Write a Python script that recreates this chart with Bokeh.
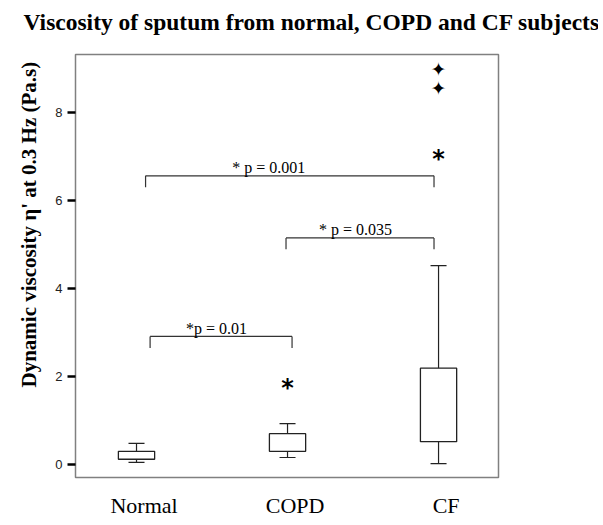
from bokeh.plotting import figure
from bokeh.models import FixedTicker, Title, Range1d, ColumnDataSource, Label
from bokeh.core.properties import value
from bokeh.embed import file_html
from bokeh.resources import INLINE

# ---- data ----
groups = ["Normal", "COPD", "CF"]
whisker_low = [0.05, 0.16, 0.02]
q1 = [0.12, 0.30, 0.52]
medians = [0.15, 0.43, 0.76]
q3 = [0.30, 0.70, 2.19]
whisker_high = [0.48, 0.93, 4.52]

extreme_groups = ["COPD", "CF"]
extreme_values = [1.80, 7.00]
far_groups = ["CF", "CF"]
far_values = [8.98, 8.55]

comp_labels = ["*p = 0.01", "* p = 0.035", "* p = 0.001"]
comp_from = ["Normal", "COPD", "Normal"]
comp_to = ["COPD", "CF", "CF"]
comp_heights = [2.91, 5.15, 6.56]

y_ticks = [0, 2, 4, 6, 8]

TITLE = "Viscosity of sputum from normal, COPD and CF subjects"
Y_LABEL = "Dynamic viscosity \u03b7' at 0.3 Hz (Pa.s)"

SERIF = "Liberation Serif"
SANS = "Liberation Sans"

pos = {g: i + 1 for i, g in enumerate(groups)}
xs = [pos[g] for g in groups]

FW, FH = 423, 423
p = figure(frame_width=FW, frame_height=FH, output_backend="svg",
           toolbar_location=None, x_range=Range1d(0.596, 3.397),
           y_range=Range1d(-0.295, 9.318), min_border_left=75,
           min_border_top=54, min_border_right=100, min_border_bottom=10,
           title=None)
p.grid.visible = False
p.outline_line_color = "#808080"
p.outline_line_width = 1.5
p.background_fill_color = "white"
p.border_fill_color = "white"

# title: a label placed in the panel above the frame
p.add_layout(Label(x=-52, y=33, x_units="screen", y_units="screen", text=TITLE,
                   text_font=SERIF, text_font_size="23.5px", text_font_style="bold",
                   text_color="black", text_baseline="alphabetic", text_align="left"),
             "above")

# y axis
ya = p.yaxis[0]
ya.ticker = FixedTicker(ticks=y_ticks)
ya.minor_tick_line_color = None
ya.major_tick_in = 0
ya.major_tick_out = 8
ya.major_tick_line_width = 2.5
ya.major_tick_line_color = "black"
ya.axis_line_color = None
ya.major_label_text_font = SANS
ya.major_label_text_font_size = "13px"
ya.major_label_text_color = "#222222"
ya.major_label_standoff = 5

yt = Title(text=Y_LABEL, align="left", offset=90, standoff=24, text_font=SERIF,
           text_font_size="21px", text_font_style="bold", text_color="black")
p.add_layout(yt, "left")

# x axis
xa = p.xaxis[0]
label_shift = 0.05
xa.ticker = FixedTicker(ticks=[x + label_shift for x in xs])
xa.major_label_overrides = {x + label_shift: g for x, g in zip(xs, groups)}
xa.major_tick_line_color = None
xa.minor_tick_line_color = None
xa.axis_line_color = None
xa.major_label_text_font = SERIF
xa.major_label_text_font_size = "22px"
xa.major_label_text_color = "black"
xa.major_label_standoff = 9

# boxes
src = ColumnDataSource(dict(x=xs, lo=whisker_low, q1=q1, med=medians, q3=q3, hi=whisker_high))
box_w = 0.24
cap_w = 0.106
line_col = "#222222"
p.segment(x0="x", y0="q3", x1="x", y1="hi", source=src, line_color=line_col, line_width=1.2)
p.segment(x0="x", y0="lo", x1="x", y1="q1", source=src, line_color=line_col, line_width=1.2)
p.vbar(x="x", bottom="q1", top="q3", width=box_w, source=src, fill_color="white",
       line_color=line_col, line_width=1.3)
p.rect(x="x", y="med", width=box_w, height=0, source=src, line_color=line_col, line_width=1.3)
cap_src = ColumnDataSource(dict(x0=[x - cap_w / 2 for x in xs], x1=[x + cap_w / 2 for x in xs],
                                lo=whisker_low, hi=whisker_high))
p.segment(x0="x0", y0="hi", x1="x1", y1="hi", source=cap_src, line_color=line_col, line_width=1.2)
p.segment(x0="x0", y0="lo", x1="x1", y1="lo", source=cap_src, line_color=line_col, line_width=1.2)

# outliers
p.text(x=[pos[g] for g in extreme_groups], y=extreme_values, text=["*"] * len(extreme_values),
       text_font=value("DejaVu Sans"), text_font_style="bold", text_font_size="24px",
       text_align="center", text_baseline="middle", y_offset=3, text_color="black")
p.text(x=[pos[g] for g in far_groups], y=far_values, text=["\u2726"] * len(far_values),
       text_font=value("DejaVu Sans"), text_font_size="19px",
       text_align="center", text_baseline="middle", text_color="black")

# significance brackets
from_off = [0.09, -0.01, 0.06]
to_off = [0.03, -0.03, -0.03]
text_off = [-0.03, -0.03, -0.14]
drop = 0.26
bx0, bx1, by, tx = [], [], [], []
for a, b, h, fo, to, tof in zip(comp_from, comp_to, comp_heights, from_off, to_off, text_off):
    x0 = pos[a] + fo
    x1 = pos[b] + to
    bx0.append(x0)
    bx1.append(x1)
    by.append(h)
    tx.append((x0 + x1) / 2 + tof)
bcol = "#333333"
p.segment(x0=bx0, y0=by, x1=bx1, y1=by, line_color=bcol, line_width=1.2)
p.segment(x0=bx0, y0=by, x1=bx0, y1=[h - drop for h in by], line_color=bcol, line_width=1.2)
p.segment(x0=bx1, y0=by, x1=bx1, y1=[h - drop for h in by], line_color=bcol, line_width=1.2)
p.text(x=tx, y=by, text=comp_labels, text_font=value(SERIF), text_font_size="16px",
       text_align="center", text_baseline="alphabetic", y_offset=-8, text_color="black")

open("out.html", "w").write(file_html(p, INLINE))
